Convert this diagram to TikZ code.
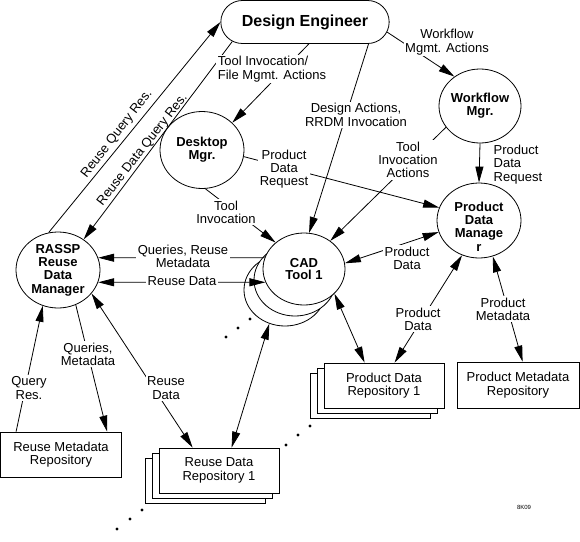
\documentclass[tikz,border=0pt]{standalone}
\usepackage{fontspec}
\setmainfont{Liberation Sans}
\usetikzlibrary{arrows.meta,shapes.geometric,shapes.misc}
\begin{document}
\begin{tikzpicture}[x=1pt,y=-1pt,line width=0.8pt,
  tip/.style={-{Triangle[length=16pt,width=8pt]}},
  bitip/.style={{Triangle[length=16pt,width=8pt]}-{Triangle[length=16pt,width=8pt]}},
  lblfont/.style={font=\fontsize{13}{13.3}\selectfont},
  proc/.style={draw, ellipse, fill=white, inner sep=-8pt, align=center,
    font=\fontsize{13}{13.3}\selectfont\bfseries},
  repo/.style={draw, rectangle, fill=white, minimum width=120pt, minimum height=45pt,
    align=center, font=\fontsize{13}{13.3}\selectfont},
  lbl/.style={lblfont, fill=white, inner sep=1.5pt, align=center},
  dot/.style={fill, circle, inner sep=0pt, minimum size=3.2pt},
]
\useasboundingbox (0,0) rectangle (580,541);

% processes
\node[draw, rounded rectangle, fill=white, minimum width=175pt, minimum height=43pt,
  font=\fontsize{16}{18}\selectfont\bfseries] (de) at (305,22) {Design Engineer};
\node[proc, minimum width=84pt, minimum height=77pt] (dm) at (202,150) {Desktop\\Mgr.};
\node[proc, minimum width=82pt, minimum height=74pt] (wm) at (480,106) {Workflow\\Mgr.};
\node[proc, minimum width=84pt, minimum height=75pt,
  label={[align=center, font=\fontsize{13}{13.3}\selectfont\bfseries, yshift=-6pt]center:Product\\Data\\Manage\\r}]
  (pdm) at (479,220.5) {};
\node[proc, minimum width=82pt, minimum height=72pt] (cad3) at (285,290) {};
\node[proc, minimum width=82pt, minimum height=72pt] (cad2) at (295,280) {};
\node[proc, minimum width=82pt, minimum height=72pt, font=\fontsize{13}{12.5}\selectfont\bfseries] (cad) at (304,269) {CAD\\Tool 1};
\node[proc, minimum width=84pt, minimum height=76pt] (rr) at (58,270) {RASSP\\Reuse\\Data\\Manager};

% repositories
\node[repo, minimum width=121pt] (rmr) at (61,454.5) {Reuse Metadata\\Repository};
\node[repo] (rdr3) at (205,480.5) {};
\node[repo] (rdr2) at (212,475.5) {};
\node[repo] (rdr1) at (219,470.5) {Reuse Data\\Repository 1};
\node[repo] (pdr3) at (370,395.5) {};
\node[repo] (pdr2) at (377,390.5) {};
\node[repo] (pdr1) at (384,385.5) {Product Data\\Repository 1};
\node[repo, minimum width=122pt, minimum height=46pt] (pmr) at (518,385) {Product Metadata\\Repository};

% dots
\node[dot] (d1) at (226,337) {};
\node[dot] (d2) at (238,328) {};
\node[dot] (d3) at (250,319) {};
\node[dot] (d4) at (117,529) {};
\node[dot] (d5) at (130,519) {};
\node[dot] (d6) at (142,510) {};
\node[dot] (d7) at (286,445) {};
\node[dot] (d8) at (298,435) {};
\node[dot] (d9) at (310,426) {};

% connectors
\draw[tip] (rr.104) -- (de.west);
\node[lblfont, rotate=52] (l1) at (117,134) {Reuse Query Res.};
\draw[tip] (de.195) -- (rr.50);
\node[lblfont, rotate=52] (l2) at (142.5,150) {Reuse Data Query Res.};

\draw[tip] (de.280) -- (dm.42);
\node[lbl, align=left, anchor=west] (l3) at (216,69) {Tool Invocation/\\File Mgmt. Actions};

\draw[tip] (de.353) -- (wm.131);
\node[lbl] (l4) at (447,42) {Workflow\\Mgmt. Actions};

\draw[tip] (de.341) -- (cad.82);
\node[lbl] (l5) at (356,115) {Design Actions,\\RRDM Invocation};

\draw[tip] (wm.212) -- (cad.47);
\node[lbl] (l6) at (408,160) {Tool\\Invocation\\Actions};

\draw[tip] (wm.south) -- (pdm.north);
\node[lblfont, align=left, anchor=west] (l7) at (490,164.5) {Product\\Data\\Request};

\draw[tip] (dm.-9) -- (pdm.162);
\node[lbl] (l8) at (284,169) {Product\\Data\\Request};

\draw[tip] (dm.-85) -- (cad.137);
\node[lbl] (l9) at (226,212) {Tool\\Invocation};

\draw[tip] (cad.164) -- (rr.17);
\node[lbl] (l10) at (183,256) {Queries, Reuse\\Metadata};

\draw[bitip] (rr.343) -- (cad.199);
\node[lbl] (l11) at (182,281) {Reuse Data};

\draw[bitip] (cad.8) -- (pdm.196);
\node[lbl] (l12) at (407,258) {Product\\Data};

\draw[bitip] (pdm.244) -- ([xshift=71pt]pdr1.north west);
\node[lbl] (l13) at (418,319) {Product\\Data};

\draw[bitip] (pdm.291) -- ([xshift=66pt]pmr.north west);
\node[lbl] (l14) at (503,309) {Product\\Metadata};

\draw[bitip] (cad.321) -- ([xshift=41pt]pdr1.north west);
\draw[bitip] (cad3.245) -- ([xshift=73pt]rdr1.north west);

\draw[bitip] (rr.325) -- ([xshift=34pt]rdr1.north west);
\node[lbl] (l15) at (166,388) {Reuse\\Data};

\draw[tip] (rr.297) -- ([xshift=107pt]rmr.north west);
\node[lbl] (l16) at (88,354) {Queries,\\Metadata};

\draw[tip] ([xshift=16pt]rmr.north west) -- (rr.247);
\node[lbl] (l17) at (29,388) {Query\\Res.};

\node[font=\fontsize{6}{6}\selectfont] (tag) at (524,507) {8K09};
\end{tikzpicture}
\end{document}
